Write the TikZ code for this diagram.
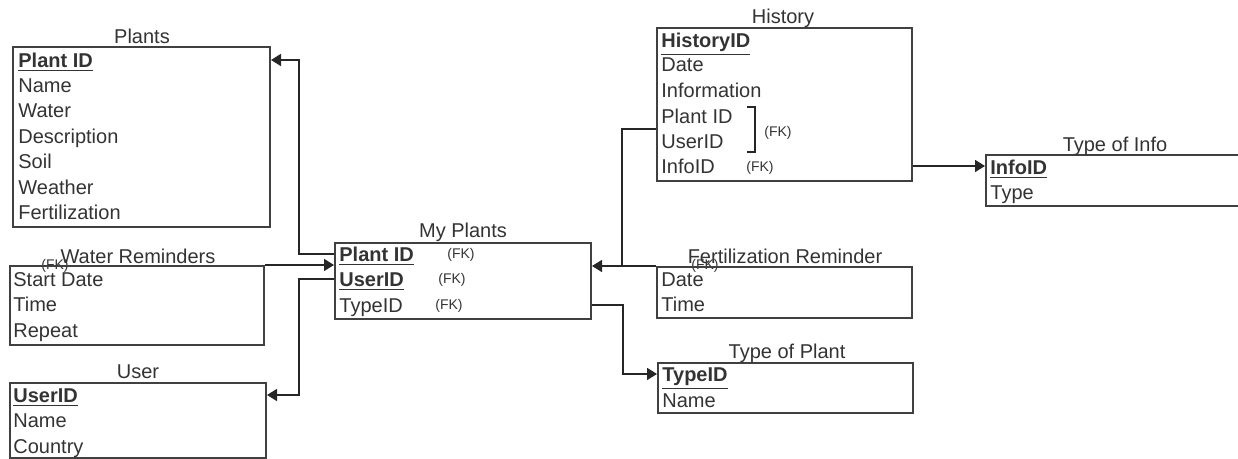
\documentclass[tikz,border=0pt]{standalone}
\usepackage{fontspec}
\setmainfont{Liberation Sans}
\usetikzlibrary{arrows.meta,fit}
\newcommand{\pkey}[1]{\underline{\textbf{#1}}}
\tikzset{
  tbl/.style={draw=black!75,line width=1pt,inner sep=0pt},
  fld/.style={anchor=west,inner sep=0pt,text=black!80,text height=7.2pt,text depth=0pt,
    font=\fontsize{10}{12}\selectfont},
  ttl/.style={inner sep=0pt,text=black!80,text height=7.2pt,text depth=0pt,
    font=\fontsize{10}{12}\selectfont},
  fknote/.style={inner sep=0pt,text=black!80,text height=5pt,text depth=0pt,
    font=\fontsize{7}{8}\selectfont},
  link/.style={line width=0.8pt,black!85},
  arr/.style={link,-{Triangle[length=5pt,width=6pt]}}
}
\begin{document}
\begin{tikzpicture}[x=0.5pt,y=-0.5pt]
  \useasboundingbox (0,0) rectangle (1238,459);
  % Plants
  \node (plants) [tbl,fit={(13,47) (270,227)}] {};
  \node (plantsttl) [ttl] at (142,36) {Plants};
  \node (plpid) [fld] at (18,60) {\pkey{Plant ID}};
  \node (plname) [fld] at (18,85) {Name};
  \node (plwater) [fld] at (18,110) {Water};
  \node (pldesc) [fld] at (18,136) {Description};
  \node (plsoil) [fld] at (18,161) {Soil};
  \node (plweather) [fld] at (18,187) {Weather};
  \node (plfert) [fld] at (18,212) {Fertilization};
  % Water Reminders
  \node (wrfk) [fknote] at (55,265) {(FK)};
  \node (wr) [tbl,fit={(10,266) (264,345)}] {};
  \node (wrttl) [ttl] at (138,256) {Water Reminders};
  \node (wrdate) [fld] at (13,279) {Start Date};
  \node (wrtime) [fld] at (13,304) {Time};
  \node (wrrepeat) [fld] at (13,330) {Repeat};
  % User
  \node (user) [tbl,fit={(10,383) (266,458)}] {};
  \node (userttl) [ttl] at (138,371) {User};
  \node (useruid) [fld] at (13,395) {\pkey{UserID}};
  \node (username) [fld] at (13,420) {Name};
  \node (usercountry) [fld] at (13,446) {Country};
  % My Plants
  \node (mp) [tbl,fit={(335,243) (591,319)}] {};
  \node (mpttl) [ttl] at (463,230) {My Plants};
  \node (mppid) [fld] at (339,254) {\pkey{Plant ID}};
  \node (mpuid) [fld] at (339,279) {\pkey{UserID}};
  \node (mptid) [fld] at (339,305) {TypeID};
  \node (mpfk1) [fknote] at (461,254) {(FK)};
  \node (mpfk2) [fknote] at (452,279) {(FK)};
  \node (mpfk3) [fknote] at (449,305) {(FK)};
  % History
  \node (hist) [tbl,fit={(657,28) (912,181)}] {};
  \node (histttl) [ttl] at (783,16) {History};
  \node (hihid) [fld] at (661,40) {\pkey{HistoryID}};
  \node (hidate) [fld] at (661,64) {Date};
  \node (hiinfo) [fld] at (661,90) {Information};
  \node (hipid) [fld] at (661,116) {Plant ID};
  \node (hiuid) [fld] at (661,141) {UserID};
  \node (hiiid) [fld] at (661,166) {InfoID};
  \draw[link] (747,107) -- (755,107) -- (755,152) -- (747,152);
  \node (hifk1) [fknote] at (778,132) {(FK)};
  \node (hifk2) [fknote] at (760,167) {(FK)};
  % Type of Info
  \node (toi) [tbl,fit={(986,155) (1242,206)}] {};
  \node (toittl) [ttl] at (1115,144) {Type of Info};
  \node (toiid) [fld] at (990,167) {\pkey{InfoID}};
  \node (toitype) [fld] at (990,192) {Type};
  % Fertilization Reminder
  \node (frfk) [fknote] at (705,265) {(FK)};
  \node (fr) [tbl,fit={(657,267) (912,318)}] {};
  \node (frttl) [ttl] at (785,256) {Fertilization Reminder};
  \node (frdate) [fld] at (661,279) {Date};
  \node (frtime) [fld] at (661,304) {Time};
  % Type of Plant
  \node (tp) [tbl,fit={(658,363) (913,413)}] {};
  \node (tpttl) [ttl] at (787,351) {Type of Plant};
  \node (tptid) [fld] at (662,374) {\pkey{TypeID}};
  \node (tpname) [fld] at (662,400) {Name};
  % relations
  \draw[arr] (mppid -| mp.west) -- ++(-35,0) |- (plpid -| plants.east);
  \draw[arr] (wr.north east) -- (wr.north east -| mp.west);
  \draw[arr] (mpuid -| mp.west) -- ++(-35,0) |- (useruid -| user.east);
  \draw[arr] (fr.north west) -- (fr.north west -| mp.east);
  \coordinate (hibend) at (622,129);
  \draw[link] (hibend -| hist.west) -- (hibend) -- (hibend |- fr.north);
  \draw[arr] (mptid -| mp.east) -- ++(31,0) |- (tptid -| tp.west);
  \draw[arr] (hiiid -| hist.east) -- (hiiid -| toi.west);
\end{tikzpicture}
\end{document}
